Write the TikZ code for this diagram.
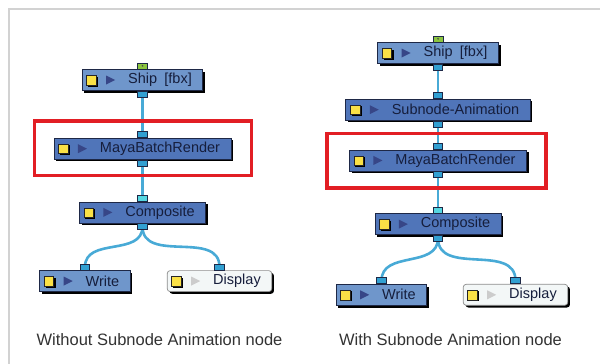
\documentclass[tikz,border=0pt]{standalone}
\usepackage{fontspec}
\setmainfont{Liberation Sans}
\usetikzlibrary{positioning,shadows,backgrounds}
\definecolor{tbdark}{RGB}{80,117,185}
\definecolor{tblight}{RGB}{111,150,203}
\definecolor{tbpale}{RGB}{243,247,247}
\definecolor{tbedge}{RGB}{30,40,70}
\definecolor{tbtext}{RGB}{22,30,60}
\definecolor{tbyellow}{RGB}{250,225,70}
\definecolor{tbtri}{RGB}{55,70,135}
\definecolor{portblue}{RGB}{50,160,210}
\definecolor{portcyan}{RGB}{85,215,225}
\definecolor{portgreen}{RGB}{140,198,63}
\definecolor{linkblue}{RGB}{72,170,214}
\definecolor{hired}{RGB}{226,30,36}
\definecolor{framegray}{RGB}{210,210,210}

% yellow square + play triangle at the left of a node
\newcommand\tbicons[1]{%
  \fill[black, sharp corners] ([shift={(6pt,-6.5pt)}]path picture bounding box.west) rectangle ++(10pt,10pt);
  \filldraw[fill=tbyellow, draw=black!85, line width=0.6pt, sharp corners] ([shift={(4.5pt,-5pt)}]path picture bounding box.west) rectangle ++(9.5pt,9.5pt);
  \fill[#1, sharp corners] ([shift={(24pt,4.5pt)}]path picture bounding box.west) -- ++(9pt,-4.5pt) -- ++(-9pt,-4.5pt) -- cycle;
}

\begin{document}
\begin{tikzpicture}[
    x=1pt, y=-1pt,
    tbbox/.style={draw=tbedge, line width=0.7pt, minimum height=21pt, inner xsep=11pt, inner ysep=0pt,
        text=tbtext, font=\fontsize{14.5}{16}\selectfont, execute at begin node={\hspace*{35pt}},
        general shadow={fill=black, shadow xshift=2.2pt, shadow yshift=-2.2pt}},
    tbdarkbox/.style={tbbox, fill=tbdark, path picture={\tbicons{tbtri}}},
    tblightbox/.style={tbbox, fill=tblight, path picture={\tbicons{tbtri}}},
    tbpalebox/.style={tbbox, fill=tbpale, draw=black!45, rounded corners=3pt, path picture={\tbicons{black!20}}},
    port/.style={draw=tbedge, line width=0.6pt, fill=portblue, minimum width=9.5pt, minimum height=6pt, inner sep=0pt},
    inport/.style={port, anchor=south},
    outport/.style={port, anchor=north},
    topport/.style={port, fill=portgreen, anchor=south, minimum width=10pt,
        path picture={\fill[black!70] (path picture bounding box.center) circle (0.9pt);}},
    link/.style={draw=linkblue, line width=2.6pt},
    hilite/.style={draw=hired, line width=3.4pt},
    caption/.style={font=\fontsize{16.5}{19}\selectfont, text=black!80}
]
    \useasboundingbox (0,0) rectangle (600,364);
    \draw[framegray, line width=2pt] (9,364) -- (9,9) -- (600,9);

    % Without subnode animation
    \node[tblightbox] (ship1) at (142.5,80) {Ship\enspace[fbx]};
    \node[tbdarkbox, below=47pt of ship1] (maya1) {MayaBatchRender};
    \node[tbdarkbox, below=42pt of maya1] (comp1) {Composite};
    \node[tblightbox, below=47pt of comp1, xshift=-57.5pt] (write1) {Write};
    \node[tbpalebox, below=47pt of comp1, xshift=77pt] (disp1) {Display};

    \node[topport] (ship1-top) at (ship1.north) {};
    \node[outport] (ship1-out) at (ship1.south) {};
    \node[inport] (maya1-in) at (maya1.north) {};
    \node[outport] (maya1-out) at (maya1.south) {};
    \node[inport, fill=portcyan] (comp1-in) at (comp1.north) {};
    \node[outport] (comp1-out) at (comp1.south) {};
    \node[inport] (write1-in) at (write1.north) {};
    \node[inport] (disp1-in) at (disp1.north) {};

    \draw[hilite] (34.5,121) rectangle (251.5,175.5);

    % With subnode animation
    \node[tblightbox] (ship2) at (438,53) {Ship\enspace[fbx]};
    \node[tbdarkbox, below=35pt of ship2] (sub2) {Subnode-Animation};
    \node[tbdarkbox, below=29pt of sub2] (maya2) {MayaBatchRender};
    \node[tbdarkbox, below=42pt of maya2] (comp2) {Composite};
    \node[tblightbox, below=49pt of comp2, xshift=-56.5pt] (write2) {Write};
    \node[tbpalebox, below=49pt of comp2, xshift=77.5pt] (disp2) {Display};

    \node[topport] (ship2-top) at (ship2.north) {};
    \node[outport] (ship2-out) at (ship2.south) {};
    \node[inport] (sub2-in) at (sub2.north) {};
    \node[outport] (sub2-out) at (sub2.south) {};
    \node[inport] (maya2-in) at (maya2.north) {};
    \node[outport] (maya2-out) at (maya2.south) {};
    \node[inport, fill=portcyan] (comp2-in) at (comp2.north) {};
    \node[outport] (comp2-out) at (comp2.south) {};
    \node[inport] (write2-in) at (write2.north) {};
    \node[inport] (disp2-in) at (disp2.north) {};

    \draw[hilite] (327,133.5) rectangle (546,188);

    % Links
    \begin{scope}[on background layer]
        \draw[link] (ship1-out.center) -- (maya1-in.center);
        \draw[link] (maya1-out.center) -- (comp1-in.center);
        \draw[link] (comp1-out.center) to[out=-90, in=90, looseness=1.1] (write1-in.center);
        \draw[link] (comp1-out.center) to[out=-90, in=90, looseness=1.1] (disp1-in.center);
        \draw[link] (ship2-out.center) -- (sub2-in.center);
        \draw[link] (sub2-out.center) -- (maya2-in.center);
        \draw[link] (maya2-out.center) -- (comp2-in.center);
        \draw[link] (comp2-out.center) to[out=-90, in=90, looseness=1.1] (write2-in.center);
        \draw[link] (comp2-out.center) to[out=-90, in=90, looseness=1.1] (disp2-in.center);
    \end{scope}

    % Captions
    \node[caption] (cap1) at (159.5,340) {Without Subnode Animation node};
    \node[caption] (cap2) at (450.5,340) {With Subnode Animation node};
\end{tikzpicture}
\end{document}
